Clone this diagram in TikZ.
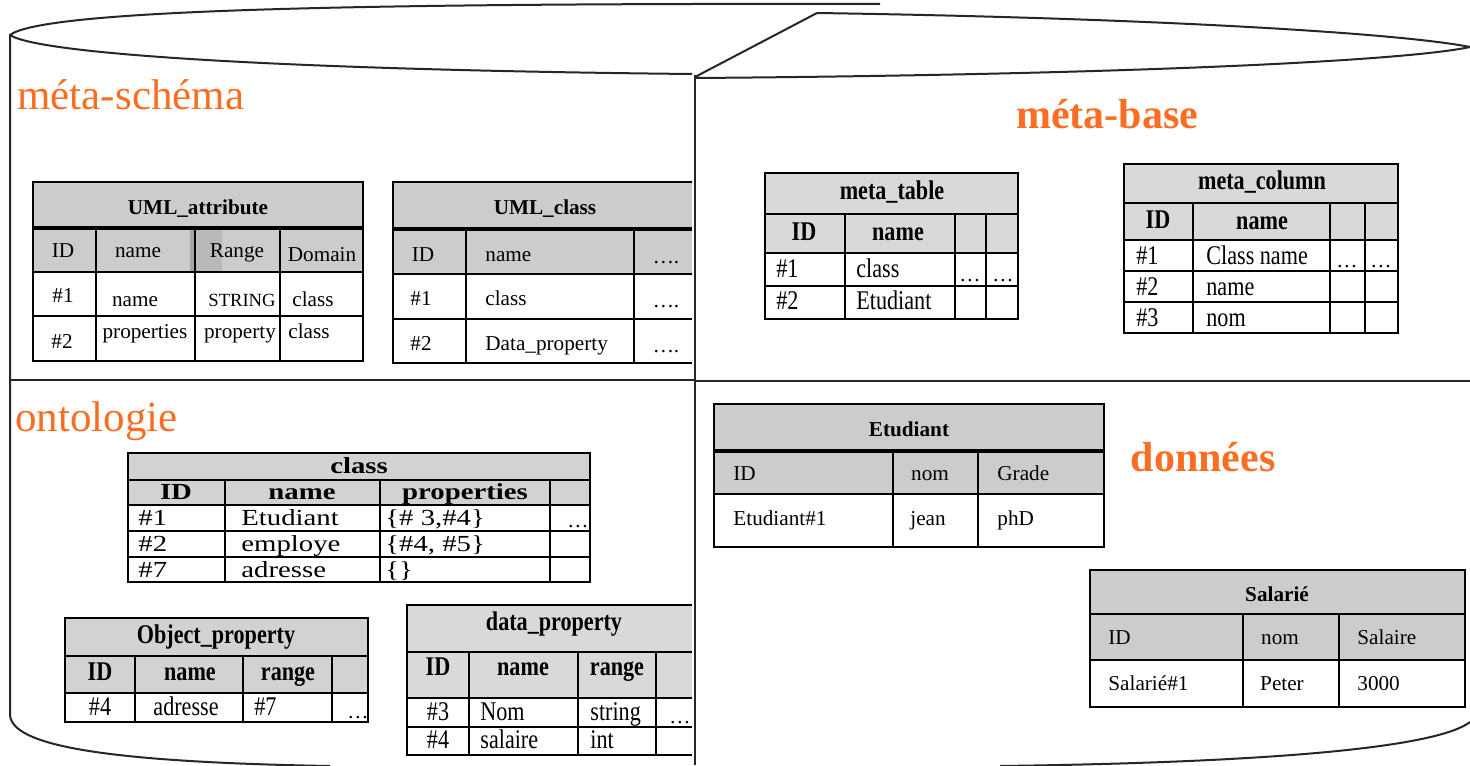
\documentclass[tikz,border=0pt]{standalone}
\usepackage{fontspec}
\setmainfont{Liberation Serif}
\newfontfamily\narrowfont[FakeStretch=0.82]{Liberation Serif}
\newfontfamily\widefont[FakeStretch=1.25]{Liberation Serif}
\definecolor{labelorange}{RGB}{250,110,35}
\begin{document}
\begin{tikzpicture}[
    x=0.5pt,
    y=-0.5pt,
    cyl/.style={line width=1pt, draw=black!85},
    tbl/.style={line width=1pt},
    sep/.style={line width=2pt},
    cell/.style={inner sep=0pt, yshift=-1.3pt, text height=1.5ex, text depth=.4ex, font=\fontsize{10.6}{12}\selectfont},
    ttl/.style={cell, font=\fontsize{10.6}{12}\selectfont\bfseries},
    ncell/.style={cell, font=\fontsize{13.5}{16}\narrowfont},
    nttl/.style={cell, font=\fontsize{13.5}{16}\narrowfont\bfseries},
    wcell/.style={cell, font=\fontsize{11.5}{13}\widefont},
    wttl/.style={cell, font=\fontsize{11.5}{13}\widefont\bfseries},
    section/.style={text=labelorange, inner sep=0pt, font=\fontsize{21.5}{24}\selectfont}
]
\useasboundingbox (0,0) rectangle (1470,765);

\draw[cyl] (10,715) -- (10,35) .. controls (40,12) and (300,5) .. (692,4) -- (880,4);
\draw[cyl] (10,35) .. controls (40,55) and (300,70) .. (692,74);
\draw[cyl] (695,77) -- (817,13) .. controls (1150,18) and (1400,33) .. (1470,47) .. controls (1400,62) and (1100,75) .. (695,78);
\draw[cyl] (10,715) .. controls (12,745) and (100,762) .. (330,766);
\draw[cyl] (1470,722) .. controls (1440,745) and (1300,762) .. (1000,766);
\draw[cyl] (695,75) -- (695,765);
\draw[cyl, line width=1.3pt] (10,380) -- (695,380);
\draw[cyl, line width=1.3pt] (695,381) -- (1470,381);

\node[section, anchor=west] (metaschema) at (17,95) {méta-schéma};
\node[section, anchor=west] (ontologie) at (15,421) {ontologie};
\node[section, font=\fontsize{21}{24}\selectfont\bfseries] (metabase) at (1107,114) {méta-base};
\node[section, font=\fontsize{21}{24}\selectfont\bfseries] (donnees) at (1203,457) {données};

\fill[gray!40] (33,182) rectangle (363,272);
\fill[gray!70] (190,229) rectangle (196,272);
\fill[gray!55] (196,229) rectangle (222,272);
\draw[tbl] (33,182) rectangle (363,361);
\draw[sep] (33,228) -- (363,228);
\foreach \y in {272,316} {
    \draw[tbl] (33,\y) -- (363,\y);
}
\foreach \x in {96,195,280} {
    \draw[tbl] (\x,229) -- (\x,361);
}
\node[ttl] (uaTitle) at (198,207) {UML\_attribute};
\node[cell] (uaId) at (63,250) {ID};
\node[cell] (uaName) at (138,250) {name};
\node[cell] (uaRange) at (237,250) {Range};
\node[cell] (uaDomain) at (322,254) {Domain};
\node[cell] (ua11) at (63,295) {\#1};
\node[cell] (ua12) at (135,299) {name};
\node[cell, font=\fontsize{9.3}{11}\selectfont] (ua13) at (242,299) {STRING};
\node[cell] (ua14) at (313,299) {class};
\node[cell] (ua21) at (62,341) {\#2};
\node[cell] (ua22) at (145,331) {properties};
\node[cell] (ua23) at (240,331) {property};
\node[cell] (ua24) at (309,331) {class};

\fill[gray!40] (393,182) rectangle (692,274);
\draw[tbl] (692,182) -- (393,182) -- (393,363) -- (692,363);
\draw[sep] (393,229) -- (692,229);
\foreach \y in {274,319} {
    \draw[tbl] (393,\y) -- (692,\y);
}
\foreach \x in {466,634} {
    \draw[tbl] (\x,230) -- (\x,363);
}
\node[ttl] (ucTitle) at (545,207) {UML\_class};
\node[cell] (ucId) at (423,254) {ID};
\node[cell, anchor=west] (ucName) at (485,254) {name};
\node[cell] (ucMore) at (666,256) {\ldots.};
\node[cell] (uc11) at (421,298) {\#1};
\node[cell, anchor=west] (uc12) at (485,298) {class};
\node[cell] (uc13) at (666,300) {\ldots.};
\node[cell] (uc21) at (421,343) {\#2};
\node[cell, anchor=west] (uc22) at (485,343) {Data\_property};
\node[cell] (uc23) at (666,345) {\ldots.};

\fill[gray!30] (765,173) rectangle (1018,253);
\draw[tbl] (765,173) rectangle (1018,319);
\foreach \y in {214,253,286} {
    \draw[tbl] (765,\y) -- (1018,\y);
}
\foreach \x in {845,955,986} {
    \draw[tbl] (\x,214) -- (\x,319);
}
\node[nttl] (mtTitle) at (892,192) {meta\_table};
\node[nttl] (mtId) at (804,233) {ID};
\node[nttl] (mtName) at (898,233) {name};
\node[ncell, anchor=west] (mt11) at (776,270) {\#1};
\node[ncell, anchor=west] (mt12) at (856,270) {class};
\node[cell] (mt13) at (970,274) {\dots};
\node[cell] (mt14) at (1003,274) {\dots};
\node[ncell, anchor=west] (mt21) at (776,302) {\#2};
\node[ncell, anchor=west] (mt22) at (856,302) {Etudiant};

\fill[gray!30] (1124,164) rectangle (1398,240);
\draw[tbl] (1124,164) rectangle (1398,333);
\foreach \y in {203,240,271,302} {
    \draw[tbl] (1124,\y) -- (1398,\y);
}
\foreach \x in {1193,1330,1365} {
    \draw[tbl] (\x,203) -- (\x,333);
}
\node[nttl] (mcTitle) at (1262,182) {meta\_column};
\node[nttl] (mcId) at (1158,221) {ID};
\node[nttl] (mcName) at (1262,222) {name};
\node[ncell, anchor=west] (mc11) at (1136,257) {\#1};
\node[ncell, anchor=west] (mc12) at (1206,257) {Class name};
\node[cell] (mc13) at (1347,260) {\dots};
\node[cell] (mc14) at (1381,260) {\dots};
\node[ncell, anchor=west] (mc21) at (1136,288) {\#2};
\node[ncell, anchor=west] (mc22) at (1206,288) {name};
\node[ncell, anchor=west] (mc31) at (1136,319) {\#3};
\node[ncell, anchor=west] (mc32) at (1206,319) {nom};

\fill[gray!35] (128,453) rectangle (590,505);
\draw[tbl] (128,453) rectangle (590,582);
\foreach \y in {480,505,531,557} {
    \draw[tbl] (128,\y) -- (590,\y);
}
\foreach \x in {225,380,550} {
    \draw[tbl] (\x,480) -- (\x,582);
}
\node[wttl] (clTitle) at (359,466) {class};
\node[wttl] (clId) at (176,492) {ID};
\node[wttl] (clName) at (302,492) {name};
\node[wttl] (clProps) at (465,492) {properties};
\node[wcell, anchor=west] (cl11) at (138,518) {\#1};
\node[wcell, anchor=west] (cl12) at (241,518) {Etudiant};
\node[wcell, anchor=west] (cl13) at (385,518) {\{\# 3,\#4\}};
\node[cell] (cl14) at (578,520) {\dots};
\node[wcell, anchor=west] (cl21) at (138,544) {\#2};
\node[wcell, anchor=west] (cl22) at (241,544) {employe};
\node[wcell, anchor=west] (cl23) at (385,544) {\{\#4, \#5\}};
\node[wcell, anchor=west] (cl31) at (138,570) {\#7};
\node[wcell, anchor=west] (cl32) at (241,570) {adresse};
\node[wcell, anchor=west] (cl33) at (385,570) {\{\}};

\fill[gray!35] (65,618) rectangle (368,693);
\draw[tbl] (65,618) rectangle (368,722);
\foreach \y in {656,693} {
    \draw[tbl] (65,\y) -- (368,\y);
}
\foreach \x in {135,243,332} {
    \draw[tbl] (\x,656) -- (\x,722);
}
\node[nttl] (opTitle) at (216,636) {Object\_property};
\node[nttl] (opId) at (100,673) {ID};
\node[nttl] (opName) at (190,673) {name};
\node[nttl] (opRange) at (288,673) {range};
\node[ncell] (op11) at (100,708) {\#4};
\node[ncell] (op12) at (186,708) {adresse};
\node[ncell, anchor=west] (op13) at (254,708) {\#7};
\node[cell] (op14) at (358,711) {\dots};

\fill[gray!30] (407,605) rectangle (692,698);
\draw[tbl] (692,605) -- (407,605) -- (407,755) -- (692,755);
\foreach \y in {652,698,727} {
    \draw[tbl] (407,\y) -- (692,\y);
}
\foreach \x in {469,578,656} {
    \draw[tbl] (\x,652) -- (\x,755);
}
\node[nttl] (dpTitle) at (554,623) {data\_property};
\node[nttl] (dpId) at (438,668) {ID};
\node[nttl] (dpName) at (523,668) {name};
\node[nttl] (dpRange) at (617,668) {range};
\node[ncell] (dp11) at (438,713) {\#3};
\node[ncell, anchor=west] (dp12) at (480,713) {Nom};
\node[ncell, anchor=west] (dp13) at (590,713) {string};
\node[cell] (dp14) at (680,716) {\dots};
\node[ncell] (dp21) at (438,741) {\#4};
\node[ncell, anchor=west] (dp22) at (480,741) {salaire};
\node[ncell, anchor=west] (dp23) at (590,741) {int};

\fill[gray!40] (714,404) rectangle (1104,494);
\draw[tbl] (714,404) rectangle (1104,547);
\draw[sep] (714,450.5) -- (1104,450.5);
\draw[tbl] (714,494) -- (1104,494);
\foreach \x in {893,978} {
    \draw[tbl] (\x,452) -- (\x,547);
}
\node[ttl] (etTitle) at (909,429) {Etudiant};
\node[cell, anchor=west] (etId) at (733,473) {ID};
\node[cell] (etNom) at (930,473) {nom};
\node[cell, anchor=west] (etGrade) at (997,473) {Grade};
\node[cell, anchor=west] (et11) at (733,518) {Etudiant\#1};
\node[cell] (et12) at (928,518) {jean};
\node[cell, anchor=west] (et13) at (997,518) {phD};

\fill[gray!40] (1090,570) rectangle (1465,660);
\draw[tbl] (1090,570) rectangle (1465,707);
\foreach \y in {614,660} {
    \draw[tbl] (1090,\y) -- (1465,\y);
}
\foreach \x in {1243,1339} {
    \draw[tbl] (\x,614) -- (\x,707);
}
\node[ttl] (saTitle) at (1277,594) {Salarié};
\node[cell, anchor=west] (saId) at (1108,637) {ID};
\node[cell] (saNom) at (1280,637) {nom};
\node[cell, anchor=west] (saSalaire) at (1357,637) {Salaire};
\node[cell, anchor=west] (sa11) at (1108,683) {Salarié\#1};
\node[cell] (sa12) at (1282,683) {Peter};
\node[cell, anchor=west] (sa13) at (1357,683) {3000};
\end{tikzpicture}
\end{document}
